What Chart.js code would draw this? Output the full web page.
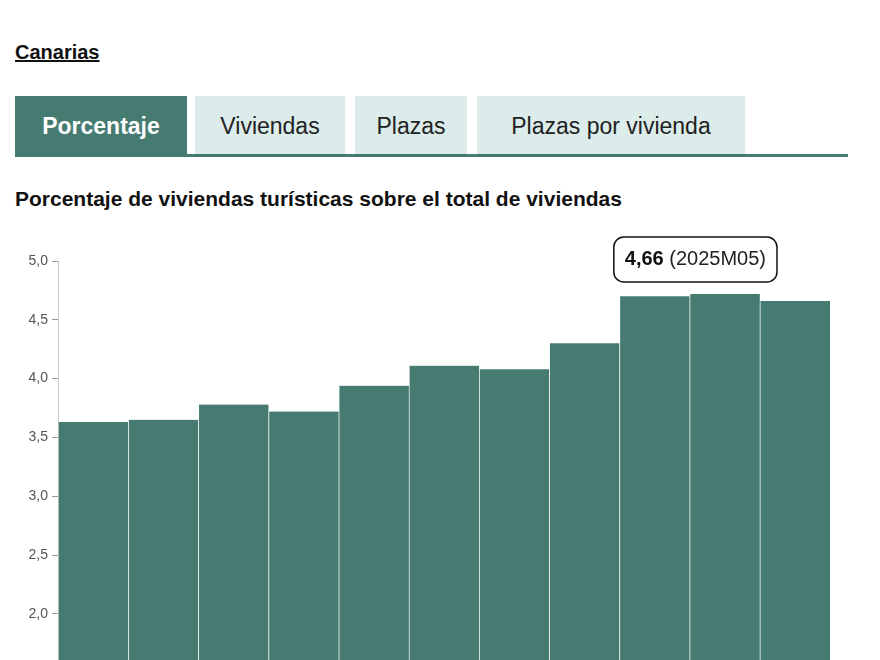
<!DOCTYPE html>
<html><head><meta charset="utf-8">
<script src="https://cdn.jsdelivr.net/npm/chart.js@4"></script>
<style>
body{margin:0;width:880px;height:660px;overflow:hidden;background:#fff;font-family:Arial,"Liberation Sans",sans-serif;position:relative}
.region{position:absolute;left:15px;top:41px;font-size:20px;font-weight:bold;text-decoration:underline;color:#111}
.tabs{position:absolute;left:15px;top:96px;width:833px;height:58px;border-bottom:3px solid #467b71}
.tab{position:absolute;top:0;height:58px;line-height:60px;text-align:center;background:#dcecea;font-size:23px;color:#222}
.tab.on{background:#467b71;color:#fff;font-weight:bold}
.title{position:absolute;left:15px;top:187px;font-size:21px;font-weight:bold;color:#111}
#wrap{position:absolute;left:0;top:200px;width:880px;height:680px}
</style></head><body>
<div class="region">Canarias</div>
<div class="tabs">
<div class="tab on" style="left:0;width:172px">Porcentaje</div>
<div class="tab" style="left:180px;width:150px">Viviendas</div>
<div class="tab" style="left:340px;width:112px">Plazas</div>
<div class="tab" style="left:462px;width:268px">Plazas por vivienda</div>
</div>
<div class="title">Porcentaje de viviendas turísticas sobre el total de viviendas</div>
<div id="wrap"><canvas id="c"></canvas></div>
<script>
const periods = ['2021M02','2021M08','2022M02','2022M08','2023M02','2023M08','2024M02','2024M08','2024M11','2025M02','2025M05'];
const porcentaje = [3.63, 3.65, 3.78, 3.72, 3.94, 4.11, 4.08, 4.30, 4.70, 4.72, 4.66];
const yTicks = [0, 0.5, 1.0, 1.5, 2.0, 2.5, 3.0, 3.5, 4.0, 4.5, 5.0];

const fmt = v => v.toFixed(2).replace('.', ',');

const tipPlugin = {
  id: 'tip',
  afterDatasetsDraw(chart) {
    const ctx = chart.ctx;
    const i = porcentaje.length - 1;
    const bar = chart.getDatasetMeta(0).data[i];
    const boldT = fmt(porcentaje[i]);
    const restT = ' (' + periods[i] + ')';
    ctx.save();
    ctx.font = 'bold 20px Arial';
    const w1 = ctx.measureText(boldT).width;
    ctx.font = '20px Arial';
    const w2 = ctx.measureText(restT).width;
    const w = w1 + w2 + 22, h = 45;
    const right = Math.min(bar.x + w / 2, chart.chartArea.right - 53);
    const x = right - w, y = bar.y - 19 - h;
    ctx.beginPath();
    ctx.roundRect(x, y, w, h, 10);
    ctx.fillStyle = '#fff'; ctx.fill();
    ctx.lineWidth = 1.5; ctx.strokeStyle = '#111'; ctx.stroke();
    ctx.textBaseline = 'middle'; ctx.fillStyle = '#111';
    ctx.font = 'bold 20px Arial'; ctx.fillText(boldT, x + 11, y + h / 2);
    ctx.font = '20px Arial'; ctx.fillStyle = '#222'; ctx.fillText(restT, x + 11 + w1, y + h / 2);
    ctx.restore();
  }
};

new Chart(document.getElementById('c'), {
  type: 'bar',
  data: { labels: periods, datasets: [{
    data: porcentaje,
    backgroundColor: '#467b71',
    borderColor: 'rgba(255,255,255,0.35)',
    borderWidth: { left: 1, right: 0, top: 0, bottom: 0 },
    borderSkipped: false,
    categoryPercentage: 1, barPercentage: 1,
  }]},
  options: {
    responsive: true, maintainAspectRatio: false, animation: false,
    layout: { padding: { top: 61, bottom: 31, right: 50 } },
    plugins: { legend: { display: false }, tooltip: { enabled: false } },
    scales: {
      x: { display: false },
      y: {
        min: 0, max: 5,
        afterFit: s => { s.width = 58; },
        afterBuildTicks: s => { s.ticks = yTicks.map(v => ({ value: v })); },
        grid: { display: true, drawOnChartArea: false, drawTicks: true, tickLength: 6, color: '#999' },
        border: { color: '#ccc' },
        ticks: { color: '#555', font: { size: 14, family: 'Arial' }, padding: 4, callback: v => v.toFixed(1).replace('.', ',') },
      },
    },
  },
  plugins: [tipPlugin],
});
</script>
</body></html>
